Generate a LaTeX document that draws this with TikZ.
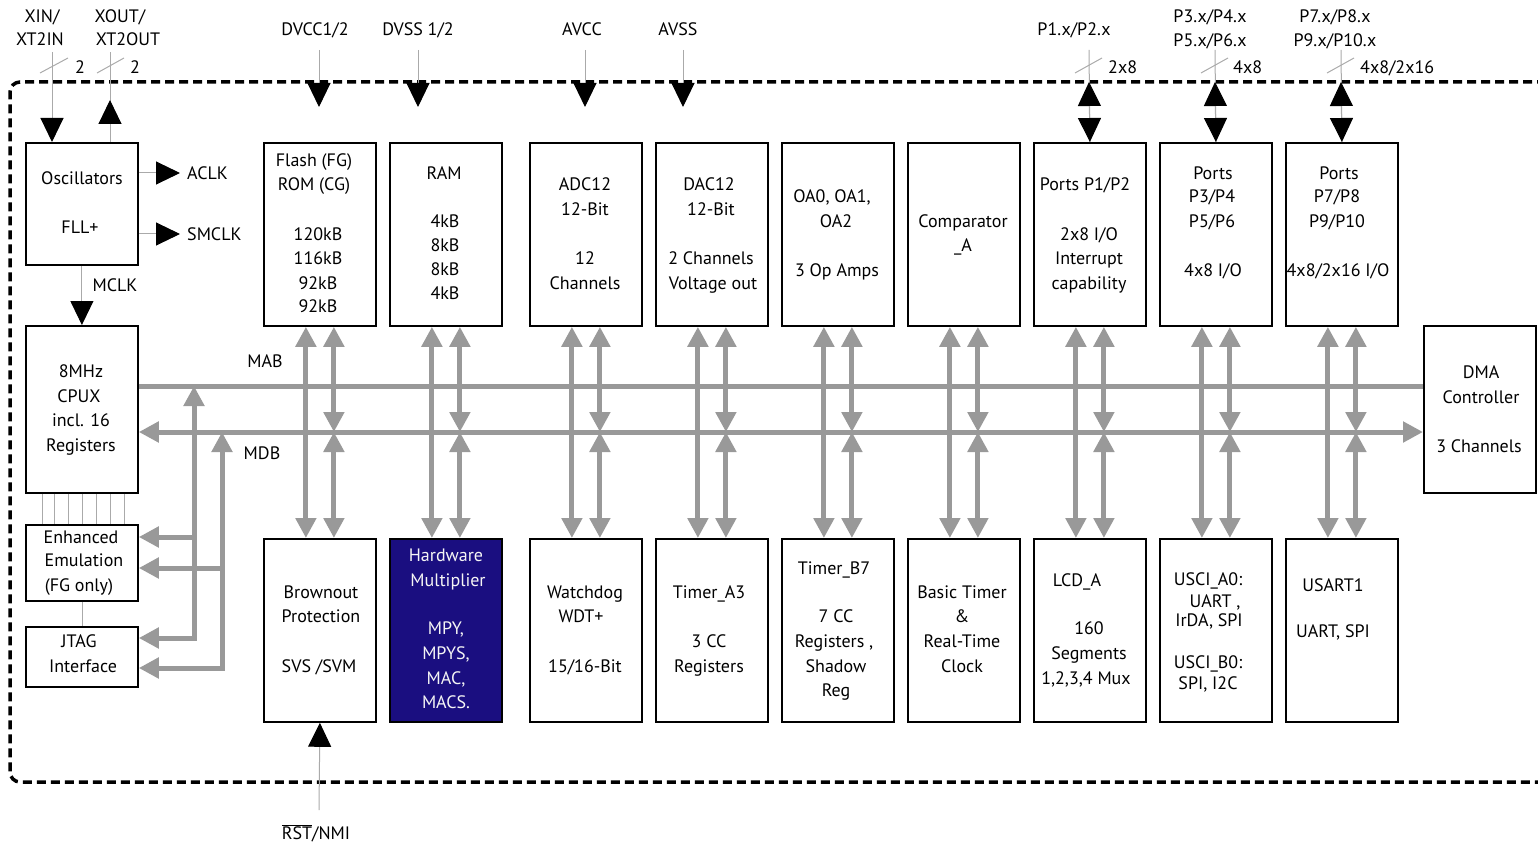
\documentclass[tikz,border=0pt]{standalone}
\usepackage{fontspec}
\setmainfont{PT Sans}
\usetikzlibrary{arrows.meta}
\definecolor{busgray}{RGB}{153,153,153}
\definecolor{thingray}{RGB}{170,170,170}
\definecolor{navy}{RGB}{26,14,128}
\newcommand\bx[5]{\node[box,minimum width={(#4-#2)*1pt},minimum height={(#5-#3)*1pt}] (#1) at (#2,#3) {};}
\newcommand\tl[3]{\node[txt] at (#1,#2) {#3};}
\begin{document}
\begin{tikzpicture}[x=1pt,y=-1pt,
  box/.style={draw=black,line width=1.8pt,inner sep=0pt,anchor=north west},
  txt/.style={font=\fontsize{18}{22}\selectfont,text height=12.6pt,text depth=0pt,inner sep=0pt},
  wtxt/.style={txt,text=white!92!gray},
  bus/.style={draw=busgray,line width=5pt},
  pin/.style={draw=thingray,line width=1pt},
  border/.style={draw=black,line width=3.5pt,dash pattern=on 9pt off 5pt,rounded corners=10pt},
  gT/.tip={Triangle[width=20pt,length=20pt]},
  pT/.tip={Triangle[width=23pt,length=24pt,color=black]}]
\useasboundingbox (0,0) rectangle (1538,842);
% border
\draw[border] (1560,82) -- (10,82) -- (10,782) -- (1560,782);
% boxes
\bx{osc}{25}{142}{137}{264}
\bx{cpu}{25}{325}{137}{492}
\bx{emul}{25}{524}{137}{600}
\bx{jtag}{25}{626}{137}{686}
\bx{flash}{263}{142}{375}{325}
\bx{ram}{389}{142}{501}{325}
\bx{adc}{529}{142}{641}{325}
\bx{dac}{655}{142}{767}{325}
\bx{oa}{781}{142}{893}{325}
\bx{comp}{907}{142}{1019}{325}
\bx{pa}{1033}{142}{1145}{325}
\bx{pb}{1159}{142}{1271}{325}
\bx{pc}{1285}{142}{1397}{325}
\bx{dma}{1423}{325}{1535}{492}
\bx{brown}{263}{538}{375}{721}
\node[box,fill=navy,minimum width=112pt,minimum height=183pt] (hwm) at (389,538) {};
\bx{wdt}{529}{538}{641}{721}
\bx{ta}{655}{538}{767}{721}
\bx{tb}{781}{538}{893}{721}
\bx{bt}{907}{538}{1019}{721}
\bx{lcd}{1033}{538}{1145}{721}
\bx{usci}{1159}{538}{1271}{721}
\bx{usart}{1285}{538}{1397}{721}
% bus coordinates
\coordinate (mab) at (0,386);
\coordinate (mdb) at (0,432);
\draw[bus] (cpu.east|-mab) -- (dma.west|-mab);
\draw[bus,gT-gT] (cpu.east|-mdb) -- (dma.west|-mdb);
\foreach \a/\b in {flash/brown,ram/hwm,adc/wdt,dac/ta,oa/tb,comp/bt,pa/lcd,pb/usci,pc/usart}{
  \path (\a.south) ++(-14,0) coordinate (ul) (\b.north) ++(-14,0) coordinate (dl)
        (\a.south) ++(14,0) coordinate (ur) (\b.north) ++(14,0) coordinate (dr);
  \draw[bus,gT-gT] (ul) -- (dl);
  \draw[bus,gT-gT] (ur) -- (ur|-mdb);
  \draw[bus,gT-gT] (ur|-mdb) -- (dr);
}
% left bus branches
\coordinate (l1) at (194,386);
\coordinate (l2) at (222,432);
\coordinate (e1) at (194,537);
\coordinate (j1) at (194,638);
\coordinate (e2) at (222,568);
\coordinate (j2) at (222,668);
\draw[bus,gT-gT] (jtag.east|-j1) -| (l1);
\draw[bus,gT-] (emul.east|-e1) -- (e1);
\draw[bus,gT-gT] (jtag.east|-j2) -| (l2);
\draw[bus,gT-] (emul.east|-e2) -- (e2);
% thin lines cpu-emulation
\foreach \x in {42,54,68,82,96,110,124}{\draw[pin,line width=0.6pt] (cpu.south-|\x,0) -- (emul.north-|\x,0);}
\draw[pin,line width=0.6pt] (emul.south) -- (jtag.north);
% oscillator pins
\coordinate (xin) at (52,52);
\coordinate (xout) at (110,52);
\coordinate (xoutt) at (110,100);
\draw[pin,-pT] (xin) -- (osc.north-|xin);
\draw[pin] (osc.north-|xout) -- (xout);
\draw[pin,-pT] (osc.north-|xout) -- (xoutt);
\draw[pin] (40,73) -- (68,58);
\draw[pin] (97,73) -- (124,58);
\tl{80}{67}{2}
\tl{135}{67}{2}
\tl{42}{16}{XIN/}
\tl{40}{39}{XT2IN}
\tl{120}{16}{XOUT/}
\tl{128}{39}{XT2OUT}
% clocks
\coordinate (aclk) at (180,173);
\coordinate (smclk) at (180,234);
\draw[pin,-pT] (osc.east|-aclk) -- (aclk);
\draw[pin,-pT] (osc.east|-smclk) -- (smclk);
\node[txt,anchor=west] at (187,173) {ACLK};
\node[txt,anchor=west] at (187,234) {SMCLK};
\draw[pin,-pT] (osc.south) -- (cpu.north);
\tl{115}{285}{MCLK}
\tl{265}{361}{MAB}
\tl{262}{453}{MDB}
% supply pins
\foreach \n/\x/\t in {dv/319/DVCC1/2,ds/418/DVSS 1/2,av/585/AVCC,as/683/AVSS}{
  \coordinate (\n) at (\x,50);
  \coordinate (\n t) at (\x,107);
  \draw[pin,-pT] (\n) -- (\n t);
}
\tl{315}{29}{DVCC1/2}
\tl{418}{29}{DVSS 1/2}
\tl{582}{29}{AVCC}
\tl{678}{29}{AVSS}
% port pins
\foreach \n/\x in {pa/1089,pb/1215,pc/1341}{
  \coordinate (\n p) at (\x,50);
  \coordinate (\n q) at (\x,82);
  \draw[pin] (\n p) -- (\n.north);
  \draw[pin,pT-pT] (\n q) -- (\n.north);
  \draw[pin] (\x-14,73) -- (\x+13,58);
}
\node[txt,anchor=west] at (1108,67) {2x8};
\node[txt,anchor=west] at (1233,67) {4x8};
\node[txt,anchor=west] at (1360,67) {4x8/2x16};
\tl{1074}{29}{P1.x/P2.x}
\tl{1210}{16}{P3.x/P4.x}
\tl{1210}{40}{P5.x/P6.x}
\tl{1335}{16}{P7.x/P8.x}
\tl{1335}{40}{P9.x/P10.x}
% reset
\coordinate (rst) at (319,810);
\draw[pin,-pT] (rst) -- (brown.south);
\tl{316}{833}{\mbox{$\overline{\hbox{RST}}$}/NMI}
% box texts
\tl{82}{178}{Oscillators}
\tl{80}{227}{FLL+}
\tl{81}{371}{8MHz}
\tl{79}{396}{CPUX}
\tl{81}{420}{incl. 16}
\tl{81}{445}{Registers}
\tl{81}{537}{Enhanced}
\tl{84}{560}{Emulation}
\tl{79}{585}{(FG only)}
\tl{79}{641}{JTAG}
\tl{83}{666}{Interface}
\tl{314}{160}{Flash (FG)}
\tl{314}{184}{ROM (CG)}
\tl{318}{234}{120kB}
\tl{318}{258}{116kB}
\tl{318}{283}{92kB}
\tl{318}{306}{92kB}
\tl{444}{173}{RAM}
\foreach \t/\y in {4kB/221,8kB/245,8kB/269,4kB/293}{\tl{445}{\y}{\t}}
\tl{585}{184}{ADC12}
\tl{585}{209}{12-Bit}
\tl{585}{258}{12}
\tl{585}{283}{Channels}
\tl{709}{184}{DAC12}
\tl{711}{209}{12-Bit}
\tl{711}{258}{2 Channels}
\tl{713}{283}{Voltage out}
\tl{832}{196}{OA0, OA1,}
\tl{836}{221}{OA2}
\tl{837}{270}{3 Op Amps}
\tl{963}{221}{Comparator}
\tl{963}{245}{\_A}
\tl{1085}{184}{Ports P1/P2}
\tl{1089}{234}{2x8 I/O}
\tl{1089}{258}{Interrupt}
\tl{1089}{283}{capability}
\tl{1213}{173}{Ports}
\tl{1212}{196}{P3/P4}
\tl{1212}{221}{P5/P6}
\tl{1213}{270}{4x8 I/O}
\tl{1339}{173}{Ports}
\tl{1337}{196}{P7/P8}
\tl{1337}{221}{P9/P10}
\tl{1338}{270}{4x8/2x16 I/O}
\tl{1481}{372}{DMA}
\tl{1481}{397}{Controller}
\tl{1479}{446}{3 Channels}
\tl{321}{592}{Brownout}
\tl{321}{616}{Protection}
\tl{319}{666}{SVS /SVM}
\node[wtxt] at (446,555) {Hardware};
\node[wtxt] at (448,580) {Multiplier};
\node[wtxt] at (446,628) {MPY,};
\node[wtxt] at (446,653) {MPYS,};
\node[wtxt] at (446,678) {MAC,};
\node[wtxt] at (446,702) {MACS.};
\tl{585}{592}{Watchdog}
\tl{581}{616}{WDT+}
\tl{585}{666}{15/16-Bit}
\tl{709}{592}{Timer\_A3}
\tl{709}{641}{3 CC}
\tl{709}{666}{Registers}
\tl{834}{568}{Timer\_B7}
\tl{836}{616}{7 CC}
\tl{834}{641}{Registers ,}
\tl{836}{666}{Shadow}
\tl{836}{690}{Reg}
\tl{962}{592}{Basic Timer}
\tl{962}{616}{\&}
\tl{962}{641}{Real-Time}
\tl{962}{666}{Clock}
\tl{1077}{580}{LCD\_A}
\tl{1089}{628}{160}
\tl{1089}{653}{Segments}
\tl{1086}{678}{1,2,3,4 Mux}
\tl{1208}{579}{USCI\_A0:}
\tl{1215}{601}{UART ,}
\tl{1209}{620}{IrDA, SPI}
\tl{1208}{662}{USCI\_B0:}
\tl{1208}{683}{SPI, I2C}
\tl{1333}{585}{USART1}
\tl{1333}{631}{UART, SPI}
\end{tikzpicture}
\end{document}
